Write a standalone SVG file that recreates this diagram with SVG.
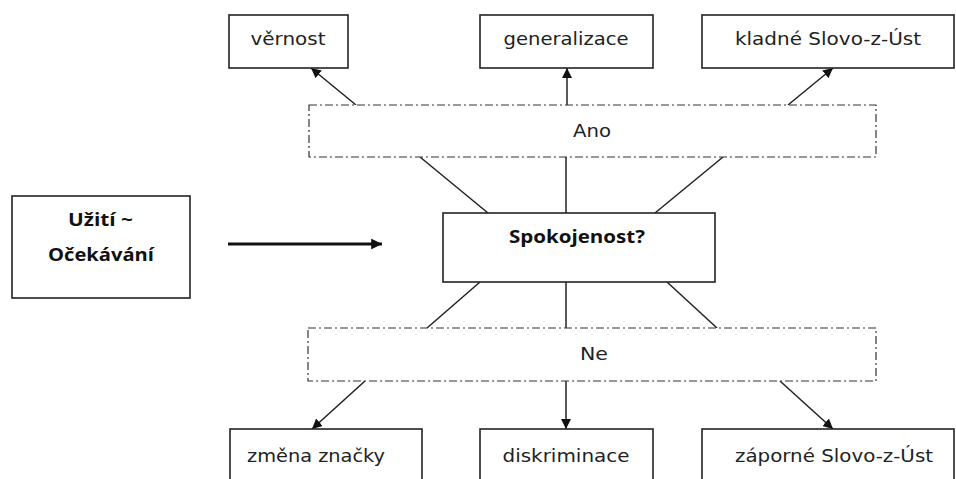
<svg xmlns="http://www.w3.org/2000/svg" width="956" height="479" viewBox="0 0 956 479">
  <defs>
    <marker id="tip" viewBox="0 0 10 10" refX="10" refY="5" markerWidth="10" markerHeight="10" markerUnits="userSpaceOnUse" orient="auto">
      <path d="M0,0 L10,5 L0,10 z" fill="#111"/>
    </marker>
    <marker id="tipBig" viewBox="0 0 10 10" refX="10" refY="5" markerWidth="3.6" markerHeight="3.6" orient="auto">
      <path d="M0,0 L10,5 L0,10 z" fill="#111"/>
    </marker>
  </defs>
  <style>
    .box { fill: #fff; stroke: #222; stroke-width: 1.6; }
    .group { fill: #fff; stroke: #333; stroke-width: 1.2; stroke-dasharray: 8 3 2 3; }
    .lbl { font-family: "DejaVu Sans", "Liberation Sans", sans-serif; font-size: 17px; fill: #222; text-anchor: middle; }
    .bold { font-family: "Open Sans", "Liberation Sans", sans-serif; font-size: 18px; font-weight: bold; fill: #111; text-anchor: middle; }
    .link { stroke: #222; stroke-width: 1.5; fill: none; }
    .arrow { stroke: #222; stroke-width: 1.5; fill: none; marker-end: url(#tip); }
  </style>
  <rect width="956" height="479" fill="#fff"/>

  <!-- connectors -->
  <g id="connectors">
    <line class="arrow" x1="356" y1="105" x2="311" y2="68"/>
    <line class="arrow" x1="567" y1="105" x2="567" y2="68"/>
    <line class="arrow" x1="788" y1="105" x2="833" y2="68"/>
    <line class="link" x1="420" y1="157" x2="488" y2="213"/>
    <line class="link" x1="566" y1="157" x2="566" y2="213"/>
    <line class="link" x1="723" y1="157" x2="655" y2="213"/>
    <line class="link" x1="480" y1="282" x2="427" y2="328"/>
    <line class="link" x1="566" y1="282" x2="566" y2="328"/>
    <line class="link" x1="667" y1="282" x2="717" y2="328"/>
    <line class="arrow" x1="365" y1="381" x2="312" y2="429"/>
    <line class="arrow" x1="566" y1="381" x2="566" y2="429"/>
    <line class="arrow" x1="780" y1="381" x2="833" y2="429"/>
    <line x1="228" y1="244" x2="382" y2="244" stroke="#111" stroke-width="3" marker-end="url(#tipBig)"/>
  </g>

  <g id="usage">
    <rect class="box" x="12" y="196" width="178" height="102"/>
    <text class="bold" x="100.5" y="226" textLength="65" lengthAdjust="spacingAndGlyphs">Užití ~</text>
    <text class="bold" x="101" y="261" textLength="106" lengthAdjust="spacingAndGlyphs">Očekávání</text>
  </g>

  <g id="satisfaction">
    <rect class="box" x="443" y="213" width="272" height="69"/>
    <text class="bold" x="577" y="243" textLength="136" lengthAdjust="spacingAndGlyphs">Spokojenost?</text>
  </g>

  <g id="yes">
    <rect class="group" x="309" y="105" width="567" height="52"/>
    <text class="lbl" x="592" y="137" textLength="38" lengthAdjust="spacingAndGlyphs">Ano</text>
  </g>

  <g id="no">
    <rect class="group" x="308" y="328" width="568" height="53"/>
    <text class="lbl" x="594" y="360" textLength="28" lengthAdjust="spacingAndGlyphs">Ne</text>
  </g>

  <g id="loyalty">
    <rect class="box" x="229" y="15" width="119" height="53"/>
    <text class="lbl" x="288" y="45" textLength="75" lengthAdjust="spacingAndGlyphs">věrnost</text>
  </g>

  <g id="generalization">
    <rect class="box" x="480" y="15" width="173" height="53"/>
    <text class="lbl" x="566" y="45" textLength="125" lengthAdjust="spacingAndGlyphs">generalizace</text>
  </g>

  <g id="positive-wom">
    <rect class="box" x="702" y="15" width="252" height="53"/>
    <text class="lbl" x="828" y="45" textLength="186" lengthAdjust="spacingAndGlyphs">kladné Slovo-z-Úst</text>
  </g>

  <g id="brand-switch">
    <rect class="box" x="230" y="429" width="192" height="70"/>
    <text class="lbl" x="316" y="462" textLength="138" lengthAdjust="spacingAndGlyphs">změna značky</text>
  </g>

  <g id="discrimination">
    <rect class="box" x="480" y="429" width="173" height="70"/>
    <text class="lbl" x="566" y="462" textLength="127" lengthAdjust="spacingAndGlyphs">diskriminace</text>
  </g>

  <g id="negative-wom">
    <rect class="box" x="702" y="429" width="252" height="70"/>
    <text class="lbl" x="834" y="462" textLength="198" lengthAdjust="spacingAndGlyphs">záporné Slovo-z-Úst</text>
  </g>
</svg>
